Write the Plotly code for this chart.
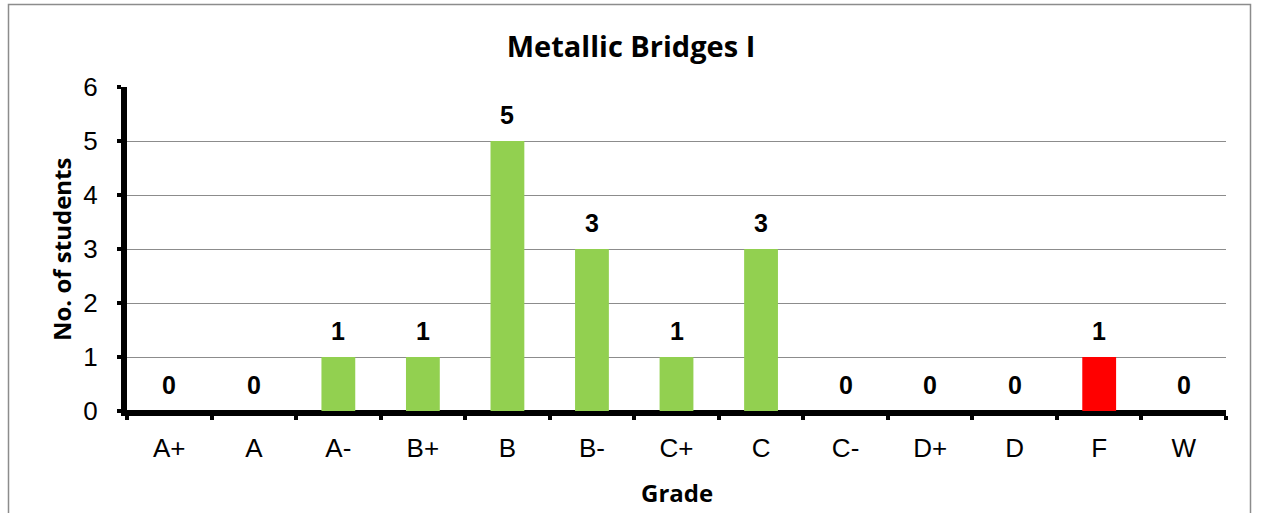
import plotly.graph_objects as go

grades = ["A+", "A", "A-", "B+", "B", "B-", "C+", "C", "C-", "D+", "D", "F", "W"]
students = [0, 0, 1, 1, 5, 3, 1, 3, 0, 0, 0, 1, 0]
bar_colors = ["#92D050"] * 11 + ["#FF0000", "#92D050"]
y_ticks = [0, 1, 2, 3, 4, 5, 6]

W, H = 1262, 513
L, R, T, B = 127, 1226, 87, 411
pw, ph = R - L, B - T

def px(x):
    return (x - L) / pw

def py(y):
    return (B - y) / ph

fig = go.Figure()
fig.add_trace(go.Bar(
    x=grades, y=students, marker=dict(color=bar_colors, line=dict(width=0)),
    width=0.4, hoverinfo="skip", showlegend=False,
))

annotations = []
for g, v in zip(grades, students):
    annotations.append(dict(
        x=g, y=v, xref="x", yref="y", text=str(v), showarrow=False,
        yanchor="middle", yshift=26,
        font=dict(family="Liberation Sans, Arial", size=25, color="#000000", weight="bold"),
    ))
annotations.append(dict(
    x=px(61), y=0.5, xref="paper", yref="paper", text="No. of students",
    textangle=-90, showarrow=False, xanchor="center", yanchor="middle",
    font=dict(family="Open Sans", size=24, color="#000000", weight="bold"),
))
annotations.append(dict(
    x=0.5, y=py(492), xref="paper", yref="paper", text="Grade",
    showarrow=False, xanchor="center", yanchor="middle",
    font=dict(family="Open Sans", size=24, color="#000000", weight="bold"),
))

fig.update_layout(
    width=W, height=H,
    margin=dict(l=L, r=W - R, t=T, b=H - B, autoexpand=False),
    paper_bgcolor="#FFFFFF", plot_bgcolor="#FFFFFF",
    title=dict(
        text="Metallic Bridges I", x=0.5, xref="container", xanchor="center",
        y=1 - 47 / H, yref="container", yanchor="middle",
        font=dict(family="Open Sans", size=29, color="#000000", weight="bold"),
    ),
    annotations=annotations,
    bargap=0.6,
    shapes=[dict(
        type="rect", xref="paper", yref="paper",
        x0=px(8.5), x1=px(1250.5), y0=py(520), y1=py(4.5),
        line=dict(color="#8C8C8C", width=1.5), fillcolor="rgba(0,0,0,0)", layer="below",
    )],
)
fig.update_xaxes(
    type="category", categoryorder="array", categoryarray=grades,
    showline=True, linecolor="#000000", linewidth=5,
    ticks="outside", tickson="boundaries", ticklen=4, tickwidth=4, tickcolor="#000000",
    showgrid=False, zeroline=False,
    tickfont=dict(family="Liberation Sans, Arial", size=26, color="#000000"),
    ticklabelstandoff=10, fixedrange=True,
)
fig.update_yaxes(
    range=[0, 6], tickvals=y_ticks,
    showline=True, linecolor="#000000", linewidth=6,
    ticks="outside", ticklen=4, tickwidth=4, tickcolor="#000000",
    showgrid=True, gridcolor="#8C8C8C", gridwidth=1,
    zeroline=True, zerolinecolor="#000000", zerolinewidth=3,
    tickfont=dict(family="Liberation Sans, Arial", size=26, color="#000000"),
    ticklabelstandoff=14, fixedrange=True,
)

fig.write_html(
    "out.html",
    config={"displayModeBar": False},
    post_script="document.body.style.margin='0';document.documentElement.style.overflow='hidden';",
)
